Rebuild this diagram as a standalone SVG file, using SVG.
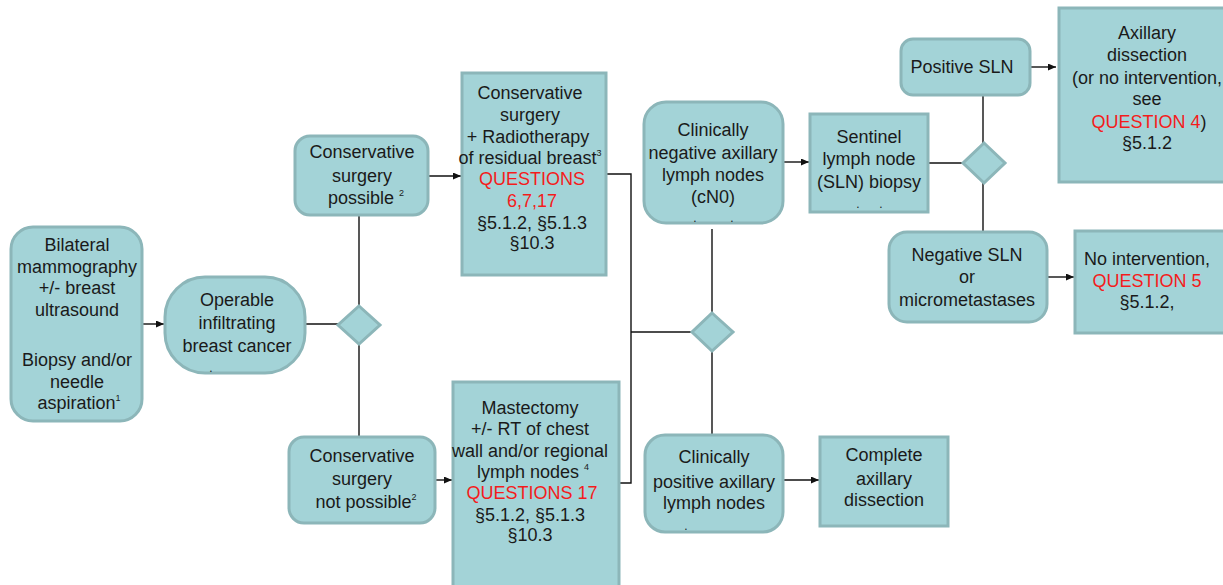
<svg xmlns="http://www.w3.org/2000/svg" width="1223" height="585" viewBox="0 0 1223 585">
  <style>
    .box { fill: #A3D3D7; stroke: #8CB6B9; stroke-width: 3; }
    .lbl { font-family: "Liberation Sans", Arial, sans-serif; font-size: 18px; fill: #1A1A1A; text-anchor: middle; }
    .red { fill: #F41C1C; }
    .sup { font-size: 9px; }
    .dot { font-size: 12px; }
    .wire { fill: none; stroke: #111; stroke-width: 1.4; }
  </style>
  <defs>
    <marker id="arrow" markerUnits="userSpaceOnUse" markerWidth="9" markerHeight="8" refX="8" refY="3.5" orient="auto">
      <path d="M0,0 L8,3.5 L0,7 z" fill="#111"/>
    </marker>
  </defs>
  <rect width="1223" height="585" fill="#FFFFFF"/>

  <!-- connectors -->
  <g id="connectors">
    <path class="wire" d="M142,324 H164" marker-end="url(#arrow)"/>
    <path class="wire" d="M305,324 H338"/>
    <path class="wire" d="M359,215 V306"/>
    <path class="wire" d="M359,344 V437"/>
    <path class="wire" d="M428,176 H461" marker-end="url(#arrow)"/>
    <path class="wire" d="M435,480 H452" marker-end="url(#arrow)"/>
    <path class="wire" d="M606,174 H631 V483 H619"/>
    <path class="wire" d="M631,332 H692"/>
    <path class="wire" d="M712,229 V313"/>
    <path class="wire" d="M712,351 V435"/>
    <path class="wire" d="M783,162 H809" marker-end="url(#arrow)"/>
    <path class="wire" d="M783,480 H819" marker-end="url(#arrow)"/>
    <path class="wire" d="M928,163 H963"/>
    <path class="wire" d="M983,95 V143"/>
    <path class="wire" d="M983,183 V232"/>
    <path class="wire" d="M1030,67 H1056" marker-end="url(#arrow)"/>
    <path class="wire" d="M1047,277 H1074" marker-end="url(#arrow)"/>
  </g>

  <!-- decision diamonds -->
  <g id="decision-surgery">
    <path class="box" d="M359,306 L380,325 L359,344 L338,325 z"/>
  </g>
  <g id="decision-nodes">
    <path class="box" d="M712,313 L733,332 L712,351 L692,332 z"/>
  </g>
  <g id="decision-sln">
    <path class="box" d="M984,143 L1005,163 L984,183 L963,163 z"/>
  </g>

  <g id="node-diagnosis">
    <rect class="box" x="11" y="227" width="131" height="194" rx="22"/>
    <text class="lbl" x="77" y="251">Bilateral</text>
    <text class="lbl" x="77" y="273">mammography</text>
    <text class="lbl" x="77" y="294">+/- breast</text>
    <text class="lbl" x="77" y="316">ultrasound</text>
    <text class="lbl" x="77" y="366">Biopsy and/or</text>
    <text class="lbl" x="77" y="388">needle</text>
    <text class="lbl" x="79" y="409">aspiration<tspan class="sup" dy="-8">1</tspan></text>
  </g>

  <g id="node-operable">
    <rect class="box" x="165" y="277" width="140" height="96" rx="40"/>
    <text class="lbl" x="237" y="306">Operable</text>
    <text class="lbl" x="237" y="329">infiltrating</text>
    <text class="lbl" x="237" y="352">breast cancer</text>
    <text class="lbl dot" x="211" y="372">.</text>
  </g>

  <g id="node-conservative-possible">
    <rect class="box" x="295" y="136" width="133" height="79" rx="15"/>
    <text class="lbl" x="362" y="158">Conservative</text>
    <text class="lbl" x="362" y="182">surgery</text>
    <text class="lbl" x="366" y="204">possible <tspan class="sup" dy="-8">2</tspan></text>
  </g>

  <g id="node-conservative-not-possible">
    <rect class="box" x="289" y="437" width="146" height="86" rx="15"/>
    <text class="lbl" x="362" y="462">Conservative</text>
    <text class="lbl" x="362" y="485">surgery</text>
    <text class="lbl" x="366" y="508">not possible<tspan class="sup" dy="-8">2</tspan></text>
  </g>

  <g id="node-breast-conserving">
    <rect class="box" x="462" y="73" width="144" height="202"/>
    <text class="lbl" x="530" y="99">Conservative</text>
    <text class="lbl" x="530" y="121">surgery</text>
    <text class="lbl" x="528" y="143">+ Radiotherapy</text>
    <text class="lbl" x="530" y="164">of residual breast<tspan class="sup" dy="-8">3</tspan></text>
    <text class="lbl red" x="532" y="185">QUESTIONS</text>
    <text class="lbl red" x="532" y="207">6,7,17</text>
    <text class="lbl" x="532" y="229">§5.1.2, §5.1.3</text>
    <text class="lbl" x="532" y="249">§10.3</text>
  </g>

  <g id="node-mastectomy">
    <rect class="box" x="453" y="382" width="166" height="210"/>
    <text class="lbl" x="530" y="414">Mastectomy</text>
    <text class="lbl" x="530" y="435">+/- RT of chest</text>
    <text class="lbl" x="530" y="457">wall and/or regional</text>
    <text class="lbl" x="533" y="478">lymph nodes <tspan class="sup" dy="-8">4</tspan></text>
    <text class="lbl red" x="532" y="499">QUESTIONS 17</text>
    <text class="lbl" x="530" y="521">§5.1.2, §5.1.3</text>
    <text class="lbl" x="530" y="541">§10.3</text>
  </g>

  <g id="node-cn0">
    <rect class="box" x="644" y="102" width="139" height="121" rx="22"/>
    <text class="lbl" x="713" y="136">Clinically</text>
    <text class="lbl" x="713" y="159">negative axillary</text>
    <text class="lbl" x="713" y="181">lymph nodes</text>
    <text class="lbl" x="713" y="203">(cN0)</text>
    <text class="lbl dot" x="695" y="222">.</text>
    <text class="lbl dot" x="732" y="222">.</text>
  </g>

  <g id="node-sln-biopsy">
    <rect class="box" x="810" y="114" width="118" height="98"/>
    <text class="lbl" x="869" y="143">Sentinel</text>
    <text class="lbl" x="869" y="165">lymph node</text>
    <text class="lbl" x="869" y="188">(SLN) biopsy</text>
    <text class="lbl dot" x="858" y="208">.</text>
    <text class="lbl dot" x="881" y="208">.</text>
  </g>

  <g id="node-positive-sln">
    <rect class="box" x="901" y="39" width="129" height="56" rx="12"/>
    <text class="lbl" x="962" y="73">Positive SLN</text>
  </g>

  <g id="node-axillary-dissection">
    <rect class="box" x="1059" y="8" width="166" height="174"/>
    <text class="lbl" x="1147" y="39">Axillary</text>
    <text class="lbl" x="1147" y="61">dissection</text>
    <text class="lbl" x="1147" y="84">(or no intervention,</text>
    <text class="lbl" x="1147" y="105">see</text>
    <text class="lbl" x="1149" y="128"><tspan class="red">QUESTION 4</tspan>)</text>
    <text class="lbl" x="1147" y="149">§5.1.2</text>
  </g>

  <g id="node-negative-sln">
    <rect class="box" x="889" y="232" width="158" height="90" rx="18"/>
    <text class="lbl" x="967" y="261">Negative SLN</text>
    <text class="lbl" x="967" y="283">or</text>
    <text class="lbl" x="967" y="306">micrometastases</text>
  </g>

  <g id="node-no-intervention">
    <rect class="box" x="1075" y="231" width="150" height="102"/>
    <text class="lbl" x="1147" y="265">No intervention,</text>
    <text class="lbl red" x="1147" y="287">QUESTION 5</text>
    <text class="lbl" x="1147" y="308">§5.1.2,</text>
  </g>

  <g id="node-cn-positive">
    <rect class="box" x="645" y="435" width="138" height="97" rx="20"/>
    <text class="lbl" x="714" y="463">Clinically</text>
    <text class="lbl" x="714" y="488">positive axillary</text>
    <text class="lbl" x="714" y="509">lymph nodes</text>
    <text class="lbl dot" x="686" y="530">.</text>
  </g>

  <g id="node-complete-dissection">
    <rect class="box" x="820" y="437" width="128" height="89"/>
    <text class="lbl" x="884" y="461">Complete</text>
    <text class="lbl" x="884" y="485">axillary</text>
    <text class="lbl" x="884" y="506">dissection</text>
  </g>
</svg>
